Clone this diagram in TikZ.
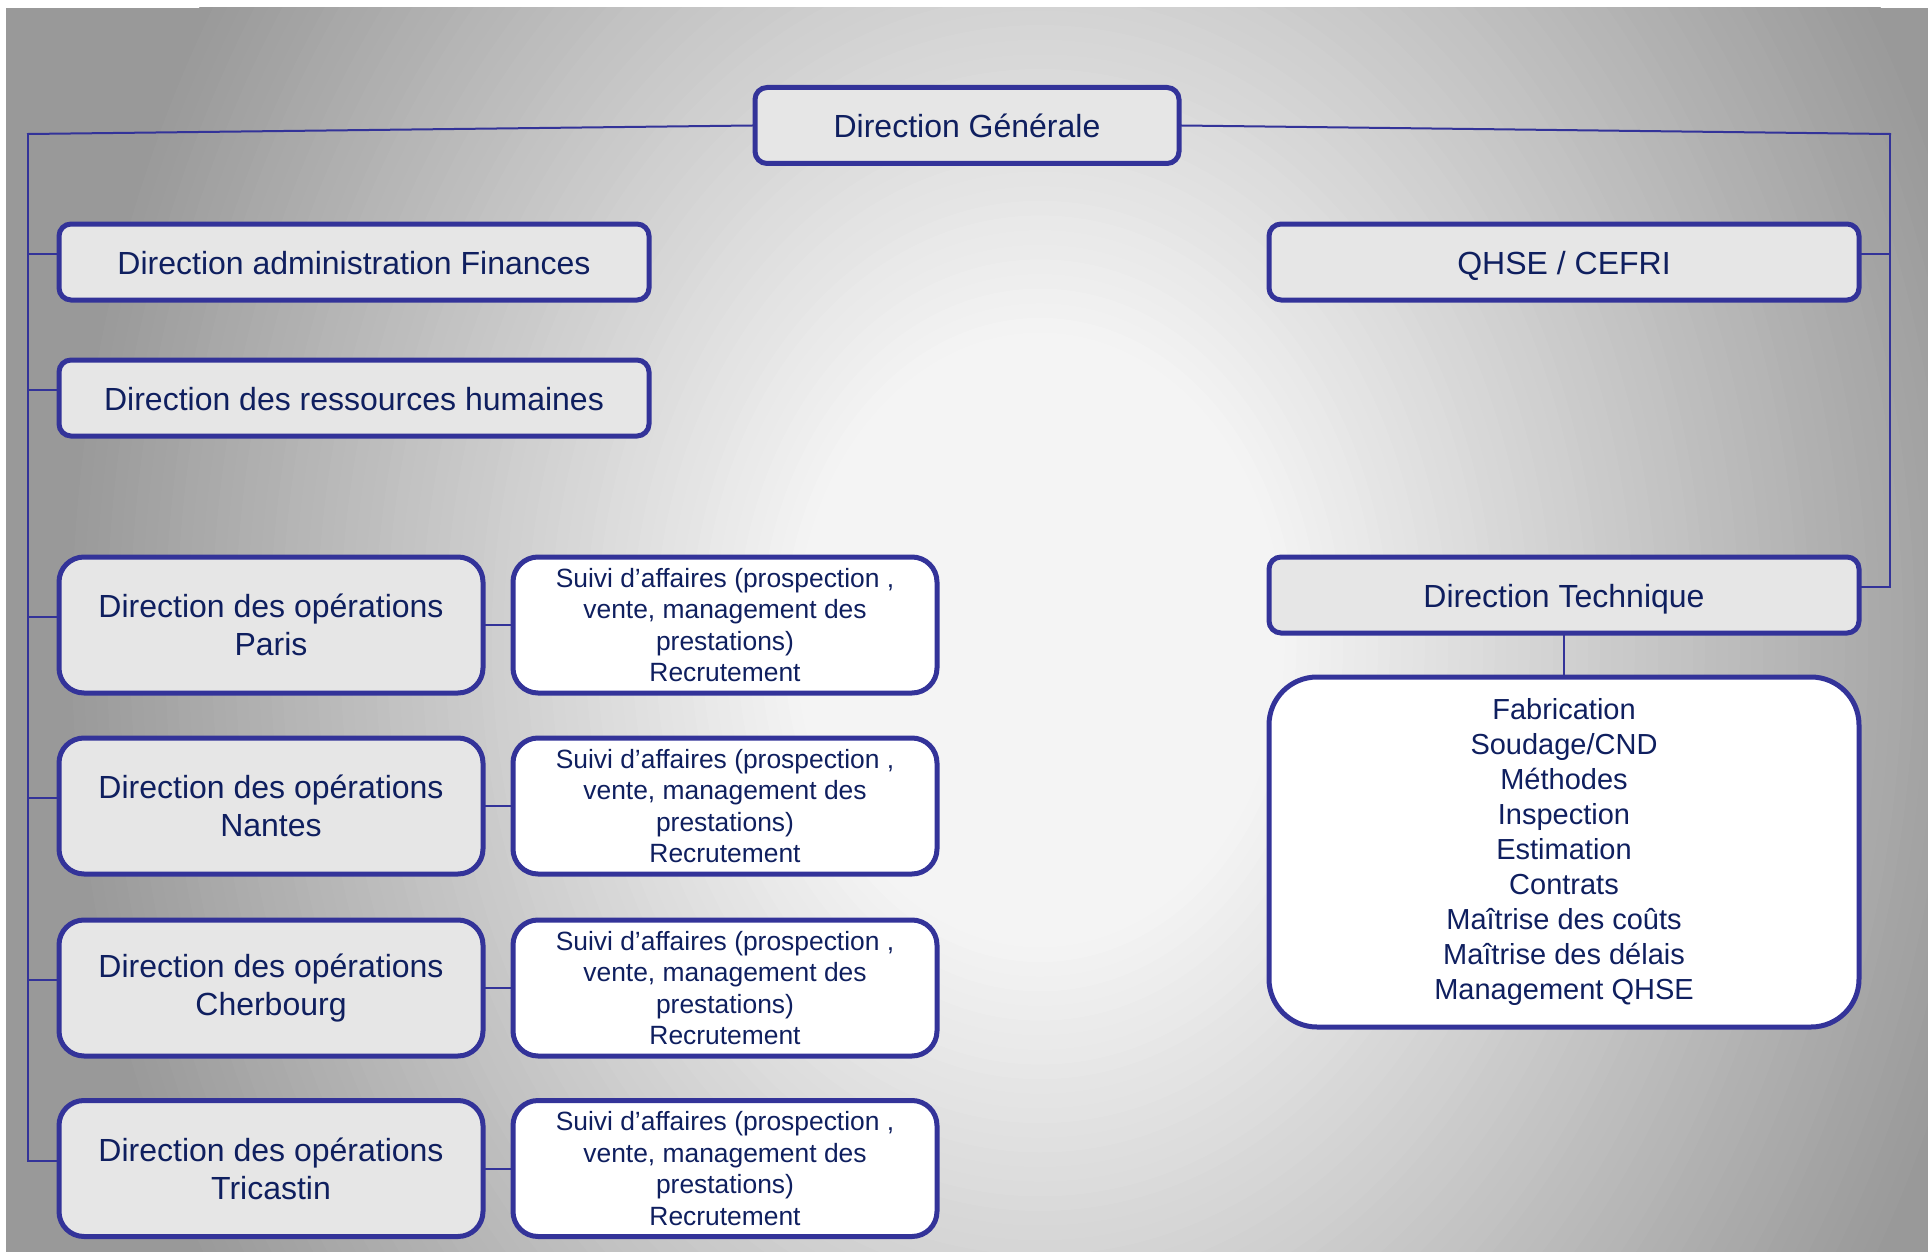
\documentclass[tikz,border=0pt]{standalone}
\usepackage{fontspec}
\setmainfont{Liberation Sans}
\definecolor{navytext}{HTML}{0F1F5F}
\definecolor{orgline}{HTML}{333399}
\definecolor{boxgray}{HTML}{E6E6E6}
\definecolor{bglight}{HTML}{F4F4F4}
\definecolor{bgdark}{HTML}{999999}
\begin{document}
\begin{tikzpicture}[x=0.5pt,y=-0.5pt,
	orgbox/.style={draw=orgline,line width=2.5pt,fill=boxgray,text=navytext,inner sep=0pt},
	headbox/.style={orgbox,rounded corners=6pt,minimum width=295pt,minimum height=38pt,text height=15.5pt,text depth=3.4pt,font=\fontsize{16}{19}\selectfont},
	opbox/.style={orgbox,rounded corners=12.5pt,minimum width=212pt,minimum height=68pt,align=center,font=\fontsize{16}{19}\selectfont},
	taskbox/.style={opbox,fill=white,font=\fontsize{13.2}{15.75}\selectfont},
	link/.style={orgline,line width=1pt,line cap=rect}]
	\useasboundingbox (0,0) rectangle (1928,1252);
	% background
	\begin{scope}
		\clip (6,8) rectangle (1928,1252);
		\fill[bgdark] (6,8) rectangle (1928,1252);
		\foreach \k in {0,...,63}{
			\pgfmathsetmacro\f{1-0.75*\k/63}
			\pgfmathsetmacro\p{100*\k/63}
			\fill[bglight!\p!bgdark] (1040,640) ellipse [x radius={980*\f},y radius={1230*\f}];
		}
	\end{scope}
	% top and staff boxes
	\node[headbox,minimum width=212pt] (dg) at (967,125.5) {Direction Générale};
	\node[headbox] (dfin) at (354,262) {Direction administration Finances};
	\node[headbox] (drh) at (354,398) {Direction des ressources humaines};
	\node[headbox] (qhse) at (1564,262) {QHSE / CEFRI};
	\node[headbox] (dtech) at (1564,595) {Direction Technique};
	\node[taskbox,rounded corners=24pt,minimum width=295pt,minimum height=175pt,font=\fontsize{14.5}{17.5}\selectfont] (dtlist) at (1564,852)
		{Fabrication\\Soudage/CND\\Méthodes\\Inspection\\Estimation\\Contrats\\Maîtrise des coûts\\Maîtrise des délais\\Management QHSE};
	% buses
	\coordinate (lt) at (28,134);
	\coordinate (rt) at (1890,134);
	\draw[link] (dg.west) -- (lt);
	\draw[link] (dg.east) -- (rt);
	\foreach \n in {dfin,drh}
		\draw[link] ([yshift=4pt]\n.west) -| (lt);
	\foreach \n in {qhse,dtech}
		\draw[link] ([yshift=4pt]\n.east) -| (rt);
	\draw[link] (dtech.south) -- (dtlist.north);
	% operations
	\foreach \site/\city/\y in {paris/Paris/625,nantes/Nantes/806,cherbourg/Cherbourg/988,tricastin/Tricastin/1168.5}{
		\node[opbox] (op\site) at (271,\y) {Direction des opérations\\\city};
		\node[taskbox] (task\site) at (725,\y) {Suivi d’affaires (prospection ,\\vente, management des\\prestations)\\Recrutement};
		\draw[link] (op\site.east) -- (task\site.west);
		\draw[link] ([yshift=4pt]op\site.west) -| (lt);
	}
\end{tikzpicture}
\end{document}
